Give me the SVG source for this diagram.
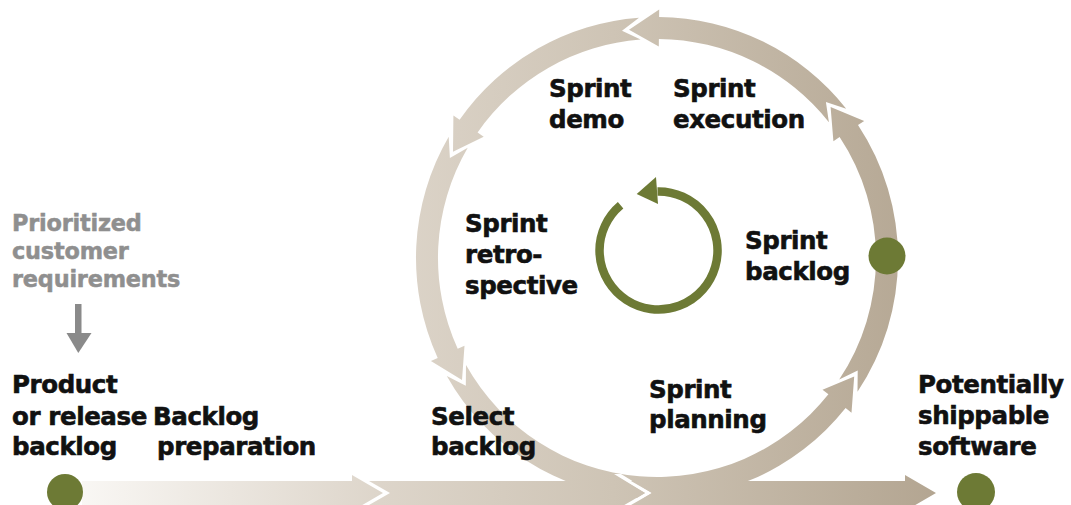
<svg xmlns="http://www.w3.org/2000/svg" width="1071" height="505" viewBox="0 0 1071 505">
<defs>
<linearGradient id="flow" gradientUnits="userSpaceOnUse" x1="80" y1="0" x2="940" y2="0">
<stop offset="0" stop-color="#f9f7f4"/>
<stop offset="0.35" stop-color="#ddd5ca"/>
<stop offset="0.62" stop-color="#cec4b5"/>
<stop offset="1" stop-color="#b3a591"/>
</linearGradient>
<style>
.band{fill:url(#flow);}
.lbl{font-family:"DejaVu Sans","Liberation Sans",sans-serif;font-weight:bold;font-size:24.5px;letter-spacing:-0.4px;fill:#111;stroke:#111;stroke-width:0.6px;}
.gray{font-family:"DejaVu Sans","Liberation Sans",sans-serif;font-weight:bold;font-size:22.4px;letter-spacing:-0.2px;fill:#8f8f8f;stroke:#8f8f8f;stroke-width:0.5px;}
.dot{fill:#6d7a35;}
</style>
</defs>
<rect width="1071" height="505" fill="#fff"/>
<g id="connectors">
<g id="sprint-cycle">
<path class="band" d="M465.8,385.8 L446.8,375.9 A241,241 0 0 0 845.6,408.0 L851.5,412.7 L854.2,376.5 L822.5,389.7 L828.4,394.3 A219,219 0 0 1 466.0,365.1 Z"/>
<path class="band" d="M857.7,370.4 L857.5,391.8 A241,241 0 0 0 858.0,125.0 L864.2,120.9 L830.6,107.1 L833.4,141.3 L839.6,137.1 A219,219 0 0 1 839.2,379.5 Z"/>
<path class="band" d="M825.9,101.9 L846.2,108.7 A241,241 0 0 0 659.1,17.0 L659.2,9.5 L629.0,29.7 L658.8,46.5 L658.9,39.0 A219,219 0 0 1 828.9,122.3 Z"/>
<path class="band" d="M622.0,30.7 L639.0,17.7 A241,241 0 0 0 459.6,119.8 L453.4,115.5 L453.0,151.8 L483.7,136.7 L477.6,132.4 A219,219 0 0 1 640.6,39.6 Z"/>
<path class="band" d="M449.9,158.1 L448.7,136.7 A241,241 0 0 0 437.7,357.9 L430.9,361.1 L462.0,379.9 L464.5,345.7 L457.7,348.8 A219,219 0 0 1 467.7,147.8 Z"/>
</g>
<polygon fill="#fff" points="614,474 645,493 614,512 621,512 652,493 621,474"/>
<g id="flow-line">
<polygon class="band" points="82,481 352,481 352,475 383,493 352,511 352,505 82,505"/>
<polygon class="band" points="369,481 614,481 614,475 645,493 614,511 614,505 369,505 390,493"/>
<polygon class="band" points="631,481 905,481 905,475 936,493 905,511 905,505 631,505 652,493"/>
</g>
<g id="requirements-arrow" fill="#8a8a8a">
<rect x="75" y="304" width="6.5" height="30"/>
<polygon points="66.5,333 91.5,333 78.3,353"/>
</g>
<g id="daily-loop">
<path d="M620.6,205.3 A59,59 0 1 0 657.5,191.5" fill="none" stroke="#6d7a35" stroke-width="8.5"/>
<polygon points="656,177 636.7,194 658,204" fill="#6d7a35"/>
</g>
</g>
<g id="node-product-backlog">
<circle class="dot" cx="65" cy="492" r="18"/>
<text class="lbl" x="12" y="393">Product</text>
<text class="lbl" x="12" y="425">or release</text>
<text class="lbl" x="12" y="455">backlog</text>
</g>
<g id="node-requirements">
<text class="gray" x="12" y="231">Prioritized</text>
<text class="gray" x="12" y="259">customer</text>
<text class="gray" x="12" y="287">requirements</text>
</g>
<g id="node-backlog-preparation">
<text class="lbl" x="153" y="425">Backlog</text>
<text class="lbl" x="157" y="455">preparation</text>
</g>
<g id="node-select-backlog">
<text class="lbl" x="431" y="425">Select</text>
<text class="lbl" x="431" y="455">backlog</text>
</g>
<g id="node-sprint-planning">
<text class="lbl" x="649" y="398">Sprint</text>
<text class="lbl" x="649" y="428">planning</text>
</g>
<g id="node-sprint-backlog">
<circle class="dot" cx="887" cy="256" r="18.5"/>
<text class="lbl" x="745" y="249">Sprint</text>
<text class="lbl" x="745" y="280">backlog</text>
</g>
<g id="node-sprint-execution">
<text class="lbl" x="673" y="97">Sprint</text>
<text class="lbl" x="673" y="128">execution</text>
</g>
<g id="node-sprint-demo">
<text class="lbl" x="549" y="97">Sprint</text>
<text class="lbl" x="549" y="128">demo</text>
</g>
<g id="node-sprint-retrospective">
<text class="lbl" x="465" y="232">Sprint</text>
<text class="lbl" x="465" y="263">retro-</text>
<text class="lbl" x="465" y="294">spective</text>
</g>
<g id="node-shippable">
<circle class="dot" cx="976" cy="492" r="19"/>
<text class="lbl" x="918" y="393">Potentially</text>
<text class="lbl" x="918" y="424">shippable</text>
<text class="lbl" x="918" y="455">software</text>
</g>
</svg>
